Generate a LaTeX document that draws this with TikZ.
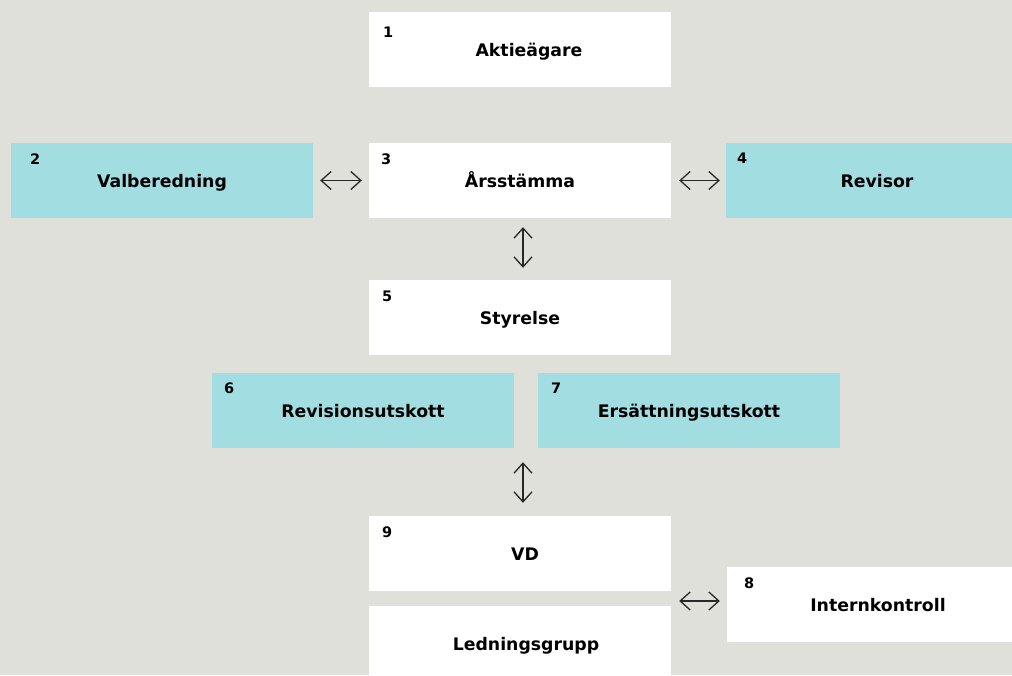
\documentclass[tikz,border=0pt]{standalone}
\usepackage{fontspec}
\setmainfont{DejaVu Sans}
\usetikzlibrary{arrows.meta,calc}
\definecolor{bggrey}{RGB}{224,224,218}
\definecolor{boxteal}{RGB}{162,221,226}
\definecolor{linkgrey}{RGB}{40,40,40}
\tikzset{
  unit/.style={fill=white, minimum width=302pt, minimum height=75pt, inner sep=0pt,
    text height=13pt, text depth=0pt, font=\fontsize{17.3}{20}\selectfont\bfseries},
  comm/.style={unit, fill=boxteal},
  num/.style={anchor=north west, inner sep=0pt, font=\fontsize{14.5}{16}\selectfont\bfseries},
  link/.style={draw=linkgrey, line width=1.3pt, {Straight Barb[length=10pt,width=18pt]}-{Straight Barb[length=10pt,width=18pt]}}
}
\begin{document}
\begin{tikzpicture}[x=1pt,y=-1pt]
\useasboundingbox (0,0) rectangle (1012,675);
\fill[bggrey] (0,0) rectangle (1012,675);
\begin{scope}
\clip (0,0) rectangle (1012,675);
% boxes
\node[unit] (akt) at (520,49.5){\hspace*{18pt}Aktieägare};
\node[comm] (val) at (162,180.5){Valberedning};
\node[unit] (ars) at (520,180.5){Årsstämma};
\node[comm] (rev) at (877,180.5){Revisor};
\node[unit] (sty) at (520,317.5){Styrelse};
\node[comm] (revu) at (363,410.5){Revisionsutskott};
\node[comm] (ers) at (689,410.5){Ersättningsutskott};
\node[unit] (vd) at (520,553.5){\hspace*{10pt}VD};
\node[unit] (led) at (520,643.5){\hspace*{12pt}Ledningsgrupp};
\node[unit] (intk) at (878,604.5){Internkontroll};
% numbers
\node[num] (n1) at ($(akt.north west)+(14,15)$){1};
\node[num] (n2) at ($(val.north west)+(19,11)$){2};
\node[num] (n3) at ($(ars.north west)+(12,11)$){3};
\node[num] (n4) at ($(rev.north west)+(11,10)$){4};
\node[num] (n5) at ($(sty.north west)+(13,11)$){5};
\node[num] (n6) at ($(revu.north west)+(12,10)$){6};
\node[num] (n7) at ($(ers.north west)+(13,10)$){7};
\node[num] (n9) at ($(vd.north west)+(13,11)$){9};
\node[num] (n8) at ($(intk.north west)+(17,11)$){8};
\end{scope}
% links
\draw[link, shorten <=7pt, shorten >=7pt] (val.east) -- (ars.west);
\draw[link, shorten <=8pt, shorten >=6pt] (ars.east) -- (rev.west);
\draw[link, shorten <=9pt, shorten >=12pt] ([xshift=3pt]ars.south) -- ([xshift=3pt]sty.north);
\draw[link, shorten <=13pt, shorten >=14pt] ([xshift=3pt]vd.north) -- ([xshift=3pt]vd.north |- revu.south);
\draw[link, shorten <=7pt, shorten >=8pt] ([yshift=3.5pt]intk.west) -- ([yshift=3.5pt]intk.west -| vd.east);
\end{tikzpicture}
\end{document}
